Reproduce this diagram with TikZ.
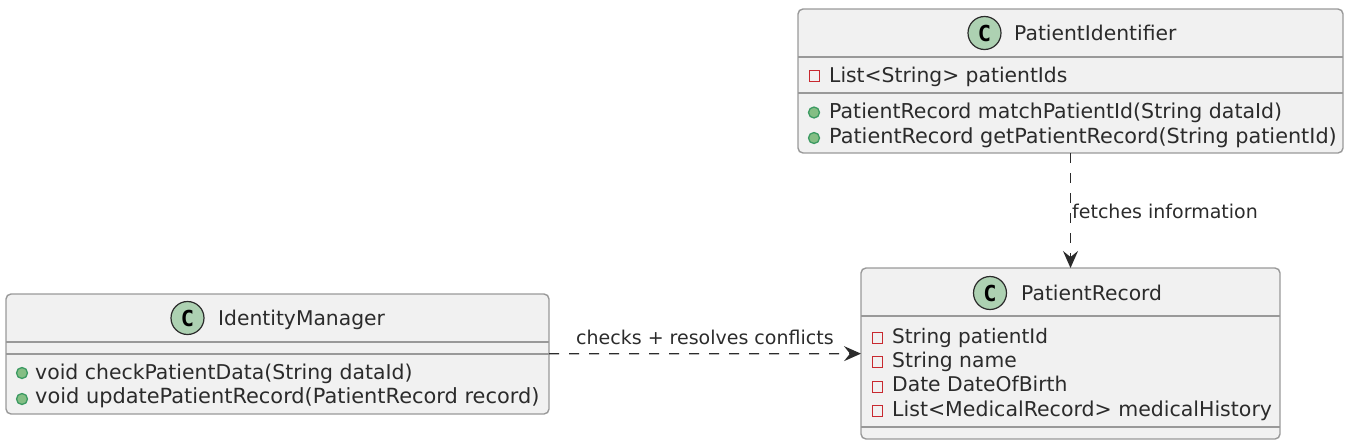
\documentclass[tikz,border=0pt]{standalone}
\usepackage{fontspec}
\setmainfont{DejaVu Sans}
\newfontfamily\badgefont{DejaVu Sans Mono}
\usetikzlibrary{arrows.meta}
\definecolor{boxfill}{HTML}{F1F1F1}
\definecolor{boxline}{HTML}{999999}
\definecolor{ink}{HTML}{2B2B2B}
\definecolor{badge}{HTML}{ADD1B2}
\definecolor{pubfill}{HTML}{84BE84}
\definecolor{publine}{HTML}{3C9A62}
\definecolor{privline}{HTML}{C82930}
\tikzset{
  classbox/.style={draw=boxline,fill=boxfill,line width=1.4pt,rounded corners=5pt,inner sep=0pt,outer sep=0pt},
  sep/.style={draw=boxline,line width=1.4pt},
  badgec/.style={circle,draw=ink,fill=badge,line width=1.2pt,minimum size=33pt,inner sep=0pt,font=\fontsize{22}{22}\badgefont\bfseries\selectfont},
  title/.style={text=ink,anchor=base west,inner sep=0pt,font=\fontsize{20.3}{24}\selectfont},
  member/.style={text=ink,anchor=base west,inner sep=0pt,font=\fontsize{#1}{24}\selectfont},
  member/.default=20.8,
  lbl/.style={text=ink,anchor=base west,inner sep=0pt,font=\fontsize{19}{22}\selectfont},
  pub/.style={circle,draw=publine,fill=pubfill,line width=1.3pt,minimum size=11pt,inner sep=0pt},
  priv/.style={rectangle,draw=privline,line width=1.3pt,minimum size=10.5pt,inner sep=0pt},
  dep/.style={draw=ink,line width=1.3pt,dash pattern=on 10pt off 10pt,-{Stealth[length=17pt,width=15pt,inset=6pt]}},
}
\begin{document}
\begin{tikzpicture}[x=1pt,y=1pt]
\useasboundingbox (0,0) rectangle (1347,-442);
% boxes
\node[classbox,minimum width=545pt,minimum height=144pt] (pi) at (1070.5,-81) {};
\node[classbox,minimum width=419pt,minimum height=171pt] (pr) at (1070.5,-353.5) {};
\node[classbox,minimum width=543pt,minimum height=120pt] (im) at (277.5,-354) {};
% separators
\draw[sep] (pi.west |- 0,-57) -- (pi.east |- 0,-57);
\draw[sep] (pi.west |- 0,-93) -- (pi.east |- 0,-93);
\draw[sep] (pr.west |- 0,-316) -- (pr.east |- 0,-316);
\draw[sep] (pr.west |- 0,-427) -- (pr.east |- 0,-427);
\draw[sep] (im.west |- 0,-342) -- (im.east |- 0,-342);
\draw[sep] (im.west |- 0,-354) -- (im.east |- 0,-354);
% PatientIdentifier
\node[badgec] (pib) at (984.5,-33) {C};
\node[title] (pit) at (1014,-40) {PatientIdentifier};
\node[priv] (pi1i) at (814.5,-76) {};
\node[member=20.3] (pi1) at (829,-82) {List<String> patientIds};
\node[pub] (pi2i) at (814,-112.5) {};
\node[member=20.5] (pi2) at (829,-118) {PatientRecord matchPatientId(String dataId)};
\node[pub] (pi3i) at (814,-138) {};
\node[member] (pi3) at (829,-143) {PatientRecord getPatientRecord(String patientId)};
% PatientRecord
\node[badgec] (prb) at (990,-293) {C};
\node[title] (prt) at (1021,-300) {PatientRecord};
\node[priv] (pr1i) at (877.5,-338) {};
\node[member=20] (pr1) at (892,-343) {String patientId};
\node[priv] (pr2i) at (877.5,-362) {};
\node[member=20.3] (pr2) at (892,-367) {String name};
\node[priv] (pr3i) at (877.5,-387) {};
\node[member=20.3] (pr3) at (892,-391) {Date DateOfBirth};
\node[priv] (pr4i) at (877.5,-411) {};
\node[member=20.5] (pr4) at (892,-416) {List<MedicalRecord> medicalHistory};
% IdentityManager
\node[badgec] (imb) at (187.5,-318) {C};
\node[title] (imt) at (218,-325) {IdentityManager};
\node[pub] (im1i) at (22,-373) {};
\node[member=20.4] (im1) at (35,-379) {void checkPatientData(String dataId)};
\node[pub] (im2i) at (22,-399) {};
\node[member=20.9] (im2) at (35,-403) {void updatePatientRecord(PatientRecord record)};
% connectors
\draw[dep] (pi) -- (pr);
\draw[dep] (im) -- (pr);
\node[lbl] (l1) at (1072,-218) {fetches information};
\node[lbl] (l2) at (576,-344) {checks + resolves conflicts};
\end{tikzpicture}
\end{document}
